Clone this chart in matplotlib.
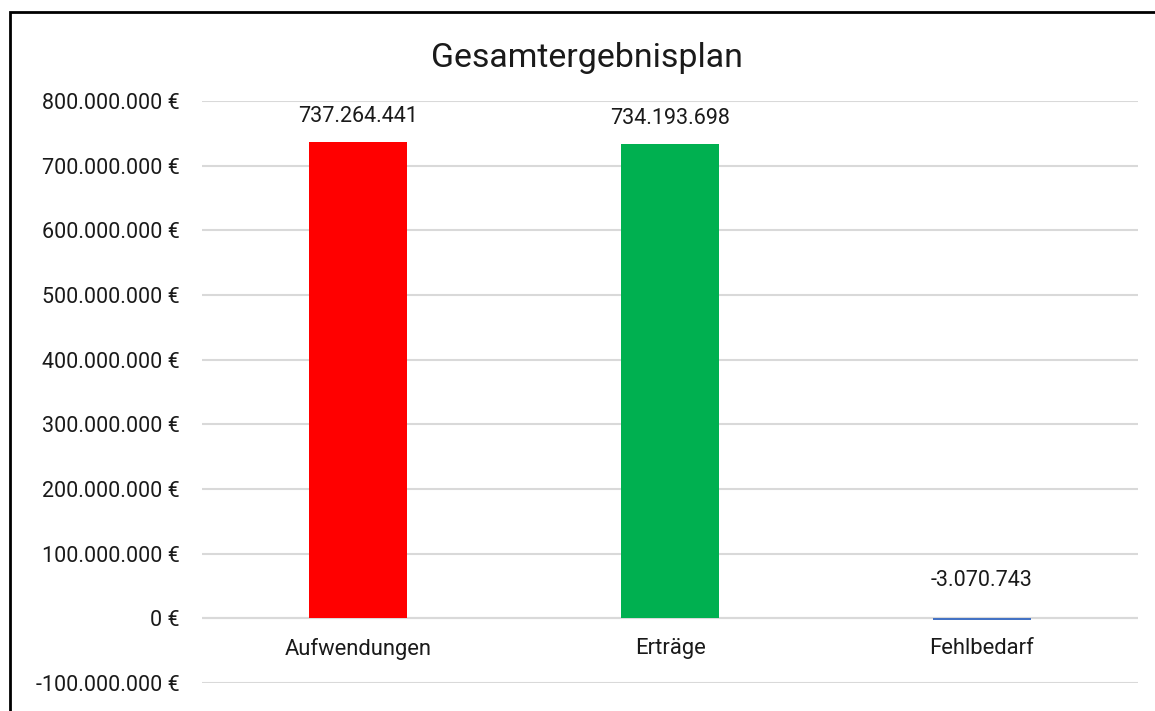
import matplotlib.pyplot as plt
from matplotlib.patches import Rectangle
from matplotlib.ticker import FuncFormatter

plt.rcParams['font.family'] = ['Roboto', 'DejaVu Sans']

# data
kategorien = ['Aufwendungen', 'Erträge', 'Fehlbedarf']
werte = [737264441, 734193698, -3070743]
farben = ['#FF0000', '#00B050', '#4472C4']
y_ticks = [-100000000, 0, 100000000, 200000000, 300000000, 400000000,
           500000000, 600000000, 700000000, 800000000]


def de_zahl(v):
    return f'{v:,.0f}'.replace(',', '.')


fig = plt.figure(figsize=(11.55, 7.11), dpi=100)
ax = fig.add_axes([0.1749, 0.0394, 0.8104, 0.8186])

x = range(len(kategorien))
ax.bar(x, werte, width=0.314, color=farben, zorder=3)

ax.set_xlim(-0.5, 2.5)
ax.set_ylim(-100000000, 800000000)
ax.set_yticks(y_ticks)
ax.yaxis.set_major_formatter(FuncFormatter(lambda v, p: de_zahl(v) + ' €'))
ax.grid(axis='y', color='#D9D9D9', linewidth=1.5, zorder=0)
ax.axhline(0, color='#D9D9D9', linewidth=1.5, zorder=1)
ax.set_xticks([])
for s in ax.spines.values():
    s.set_visible(False)
ax.tick_params(axis='y', length=0, pad=16, labelsize=15.5, labelcolor='#1a1a1a')

# category labels sit under the zero line
for i, k in enumerate(kategorien):
    ax.annotate(k, (i, 0), xytext=(0, -22), textcoords='offset points',
                ha='center', va='center', fontsize=15.8, color='#1a1a1a')

# value labels
for i, v in enumerate(werte):
    top = max(v, 0)
    off = 18 if v >= 0 else 27
    ax.annotate(de_zahl(v), (i, top), xytext=(0, off), textcoords='offset points',
                ha='center', va='center', fontsize=15.5, color='#1a1a1a')

fig.text(0.508, 0.919, 'Gesamtergebnisplan', ha='center', va='center',
         fontsize=24.4, color='#1a1a1a')

# chart border (cut off on the right and bottom)
fig.patches.append(Rectangle((0.0087, -0.05), 1.2, 1.0335, transform=fig.transFigure,
                             fill=False, edgecolor='black', linewidth=2))

fig.savefig('out.png', dpi=100)
